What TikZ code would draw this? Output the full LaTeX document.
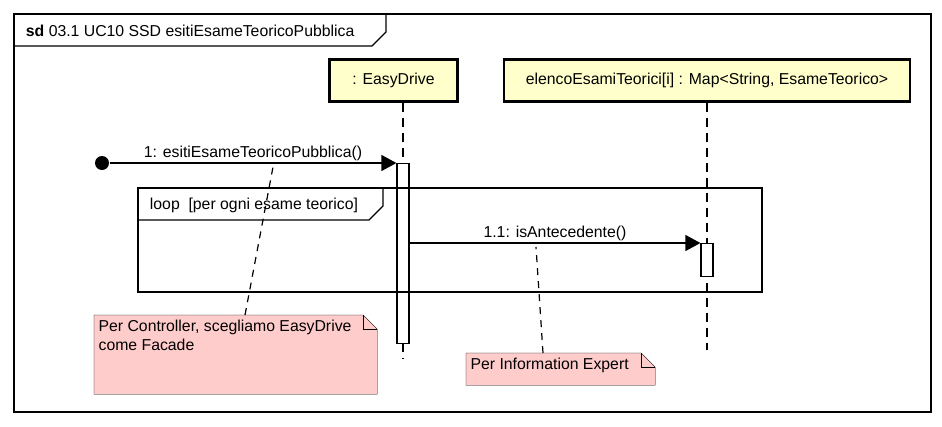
\documentclass[tikz,border=0pt]{standalone}
\usepackage{fontspec}
\setmainfont{Liberation Sans}
\usetikzlibrary{calc,positioning,backgrounds,arrows.meta}

\definecolor{lifeyellow}{RGB}{255,255,204}
\definecolor{notepink}{RGB}{255,204,204}

\tikzset{
    lifebox/.style={draw, line width=2.5pt, fill=lifeyellow, minimum height=42pt, inner xsep=6pt},
    actbar/.style={draw, fill=white, minimum width=12pt, inner sep=0pt},
    msg/.style={-{Triangle[length=15pt,width=16pt]}},
    lifeline/.style={dash pattern=on 9pt off 6pt},
    notelink/.style={dash pattern=on 7pt off 6pt},
    notebox/.style={anchor=north west, inner sep=4pt, align=left}
}

\begin{document}
\begin{tikzpicture}[x=1pt,y=-1pt,line width=1.2pt,font=\fontsize{15.8}{19}\selectfont]
    \useasboundingbox (0,0) rectangle (942,426);

    % Frame
    \draw (14,14) rectangle (931,412);
    \draw (14,46) -- (372,46) -- (386,32) -- (386,14);
    \node[anchor=west] (title) at (22,31) {\textbf{sd} 03.1 UC10 SSD esitiEsameTeoricoPubblica};

    % Lifelines
    \node[lifebox, minimum width=128pt] (easy) at (393.5,80.5) {: EasyDrive};
    \node[lifebox, minimum width=406pt] (map) at (707,80.5) {elencoEsamiTeorici[i] : Map<String, EsameTeorico>};
    \coordinate (mapend) at (707,350);
    \draw[lifeline] (easy.south -| 403,0) -- (403,358);
    \draw[lifeline] (map.south) -- (mapend);

    % Activations
    \node[actbar, minimum height=180pt, anchor=north] (act1) at (403,163) {};
    \node[actbar, minimum height=33pt, anchor=north] (act2) at (707,243) {};

    % Loop fragment
    \draw (138,188) rectangle (762,292);
    \draw (138,220) -- (369,220) -- (383,206) -- (383,188);
    \node[anchor=west] (looplab) at (146,205) {loop\ \ [per ogni esame teorico]};

    % Messages
    \node[circle, fill, inner sep=0pt, minimum size=14pt] (start) at (102,163) {};
    \draw[msg] (start) -- (act1.north west) node[midway, above=-2pt] (m1lab) {1: esitiEsameTeoricoPubblica()};
    \draw[msg] (act1.east |- act2.north) -- (act2.north west) node[midway, above=-2pt] (m2lab) {1.1: isAntecedente()};

    % Notes
    \node[notebox] (note1) at (94,315) {\parbox[t][70pt][t]{274pt}{Per Controller, scegliamo EasyDrive\\come Facade}};
    \node[notebox] (note2) at (466,353) {\parbox[t][23pt][t]{180pt}{Per Information Expert}};
    \begin{scope}[on background layer]
        \draw[fill=notepink] (note1.south west) -- (note1.north west) -- ($(note1.north east)+(-14,0)$)
            -- ($(note1.north east)+(0,14)$) -- (note1.south east) -- cycle;
        \draw ($(note1.north east)+(-14,0)$) -- ($(note1.north east)+(-14,14)$) -- ($(note1.north east)+(0,14)$);
        \draw[fill=notepink] (note2.south west) -- (note2.north west) -- ($(note2.north east)+(-14,0)$)
            -- ($(note2.north east)+(0,14)$) -- (note2.south east) -- cycle;
        \draw ($(note2.north east)+(-14,0)$) -- ($(note2.north east)+(-14,14)$) -- ($(note2.north east)+(0,14)$);
    \end{scope}
    \draw[notelink] (note1.north -| 245,0) -- ($(m1lab.south)+(20,2)$);
    \draw[notelink] (note2.north -| 543,0) -- ($(m2lab.south)+(-19,2)$);
\end{tikzpicture}
\end{document}
